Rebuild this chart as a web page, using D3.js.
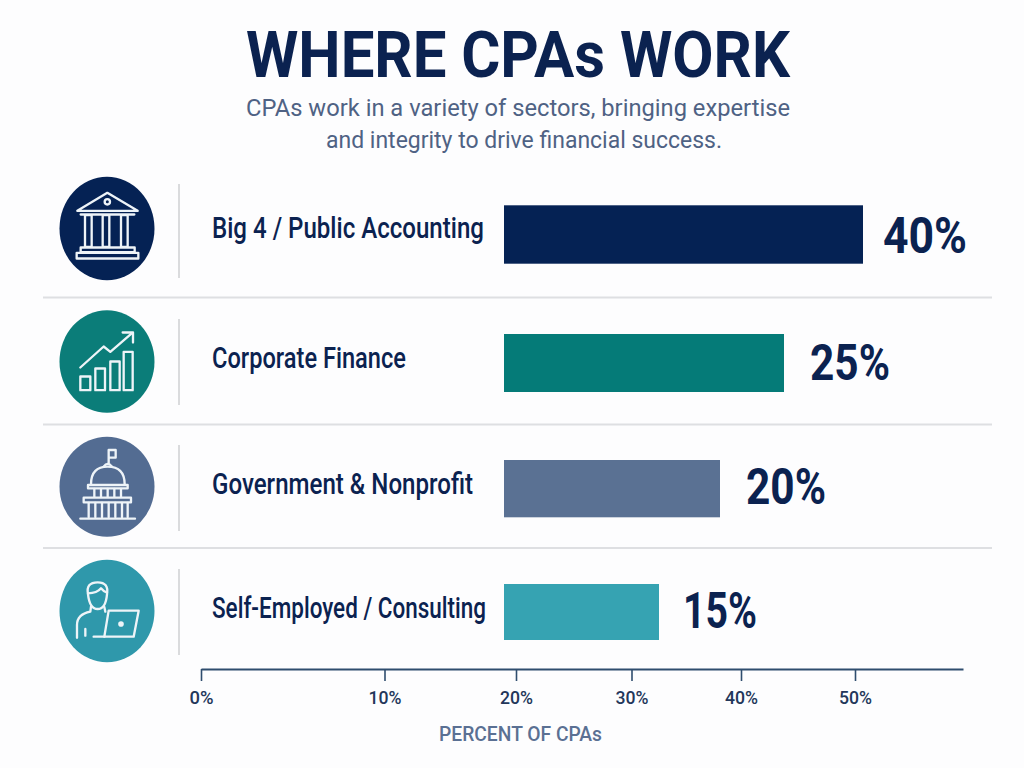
<!DOCTYPE html>
<html>
<head>
<meta charset="utf-8">
<script src="https://cdn.jsdelivr.net/npm/d3@7/dist/d3.min.js"></script>
<style>
  html, body { margin: 0; padding: 0; background: #fdfdfe; }
  svg { display: block; }
  text { font-family: Roboto, sans-serif; }
</style>
</head>
<body>
<script>
// Chart content
const categories = ["Big 4 / Public Accounting", "Corporate Finance", "Government & Nonprofit", "Self-Employed / Consulting"];
const shares = [40, 25, 20, 15];
const colors = ["#052254", "#057b78", "#5a7193", "#36a3b2"];
const iconColors = ["#052254", "#0b7d79", "#536c92", "#2f98ab"];
const axisTicks = [0, 10, 20, 30, 40, 50];
const titleText = "WHERE CPAs WORK";
const subtitleLines = ["CPAs work in a variety of sectors, bringing expertise", "and integrity to drive financial success."];
const axisTitle = "PERCENT OF CPAs";

// Row geometry
const barTop = d3.scaleOrdinal(categories, [205.3, 334, 460, 584]);
const barBottom = d3.scaleOrdinal(categories, [263.7, 392, 517.3, 640]);
const iconY = d3.scaleOrdinal(categories, [228.5, 361.5, 486.7, 611]);
const iconRy = d3.scaleOrdinal(categories, [51.7, 51.2, 50, 51.2]);
const dividerTop = d3.scaleOrdinal(categories, [184, 319, 445, 569]);
const dividerBottom = d3.scaleOrdinal(categories, [278, 405, 531, 655]);
const labelBase = d3.scaleOrdinal(categories, [238, 368, 494, 618]);
const labelWidth = d3.scaleOrdinal(categories, [272, 194, 261, 274]);
const valueBase = d3.scaleOrdinal(categories, [252.5, 380, 504, 628]);
const valueWidth = d3.scaleOrdinal(categories, [84, 80, 80, 74]);
const separatorYs = [297.5, 424.5, 548];

// The printed bar lengths and the printed axis both follow uneven spacing.
const barX = d3.scaleLinear().domain([0, 15, 20, 25, 40]).range([504, 659, 720, 784, 863]);
const axisX = d3.scaleLinear().domain([0, 10, 20, 30, 40, 50, 60]).range([201, 384.5, 516, 631.5, 741, 855, 963]);

const svg = d3.select("body").append("svg").attr("width", 1024).attr("height", 768);
svg.append("rect").attr("width", 1024).attr("height", 768).attr("fill", "#fdfdfe");

const navy = "#0b2250";

// Heading
svg.append("text").attr("x", 246).attr("y", 77).text(titleText)
  .attr("font-size", 64).attr("font-weight", 700).attr("fill", navy)
  .attr("textLength", 544).attr("lengthAdjust", "spacingAndGlyphs");
svg.selectAll("text.sub").data(subtitleLines).join("text").attr("class", "sub")
  .attr("x", (d, i) => [246, 326][i]).attr("y", (d, i) => [116, 148][i]).text(d => d)
  .attr("font-size", 24).attr("font-weight", 400).attr("fill", "#4f6284")
  .attr("textLength", (d, i) => [544, 396][i]).attr("lengthAdjust", "spacingAndGlyphs");

// Horizontal rules between rows
svg.selectAll("line.sep").data(separatorYs).join("line").attr("class", "sep")
  .attr("x1", 43).attr("x2", 992).attr("y1", d => d).attr("y2", d => d)
  .attr("stroke", "#dedfe2").attr("stroke-width", 2);

const rows = svg.selectAll("g.row").data(d3.zip(categories, shares, colors, iconColors)).join("g").attr("class", "row");

rows.append("ellipse").attr("cx", 107).attr("cy", d => iconY(d[0])).attr("rx", 47.5).attr("ry", d => iconRy(d[0])).attr("fill", d => d[3]);

rows.append("line").attr("x1", 179).attr("x2", 179)
  .attr("y1", d => dividerTop(d[0])).attr("y2", d => dividerBottom(d[0]))
  .attr("stroke", "#d6d7da").attr("stroke-width", 1.8);

rows.append("text").attr("x", 212).attr("y", d => labelBase(d[0])).text(d => d[0])
  .attr("font-size", 30).attr("font-weight", 500).attr("fill", navy)
  .attr("textLength", d => labelWidth(d[0])).attr("lengthAdjust", "spacingAndGlyphs");

rows.append("rect").attr("x", barX(0)).attr("y", d => barTop(d[0]))
  .attr("width", d => barX(d[1]) - barX(0)).attr("height", d => barBottom(d[0]) - barTop(d[0]))
  .attr("fill", d => d[2]);

rows.append("text").attr("x", d => barX(d[1]) + (d[1] === 40 ? 20 : d[1] === 15 ? 24 : 26)).attr("y", d => valueBase(d[0]))
  .text(d => d[1] + "%")
  .attr("font-size", 50).attr("font-weight", 700).attr("fill", navy)
  .attr("textLength", d => valueWidth(d[0])).attr("lengthAdjust", "spacingAndGlyphs");

// Line icons, sketched on a 3x grid around each circle's centre
const iconGroup = (i, ox, oy) => svg.append("g")
  .attr("transform", `translate(107,${iconY(categories[i])}) scale(${1 / 3}) translate(${-ox},${-oy})`)
  .attr("fill", "none").attr("stroke", "#eef4f8").attr("stroke-width", 7)
  .attr("stroke-linejoin", "round").attr("stroke-linecap", "round");

// Bank building
const bank = iconGroup(0, 201, 175);
bank.append("path").attr("d", "M112 122 L202 68 L293 122 Z");
bank.append("circle").attr("cx", 202).attr("cy", 95).attr("r", 8);
bank.append("path").attr("d", "M122 133 H283");
[135, 188, 243].forEach(x => bank.append("rect").attr("x", x).attr("y", 135).attr("width", 20).attr("height", 95));
bank.append("rect").attr("x", 122).attr("y", 232).attr("width", 162).attr("height", 14);
bank.append("rect").attr("x", 110).attr("y", 248).attr("width", 185).attr("height", 17);

// Rising bars and arrow
const growth = iconGroup(1, 200, 572);
[[120, 617, 30, 41], [165, 593, 29, 65], [210, 572, 28, 86], [250, 543, 27, 115]].forEach(b =>
  growth.append("rect").attr("x", b[0]).attr("y", b[1]).attr("width", b[2]).attr("height", b[3]));
growth.append("path").attr("d", "M120 590 L190 527 L210 543 L275 487");
growth.append("path").attr("d", "M247 485 H278 V515");

// Capitol dome
const capitol = iconGroup(2, 200, 185);
capitol.append("path").attr("d", "M205 115 V75 H226 V98 H205");
capitol.append("path").attr("d", "M190 125 Q202 108 215 125");
capitol.append("path").attr("d", "M152 178 Q152 125 202 125 Q253 125 253 178");
capitol.append("path").attr("d", "M143 180 H262 V190 H143 Z");
[162, 182, 202, 222, 242].forEach(x => capitol.append("path").attr("d", `M${x} 192 V214`));
capitol.append("path").attr("d", "M130 218 H272 V232 H130 Z");
[145, 165, 185, 205, 225, 245, 262].forEach(x => capitol.append("path").attr("d", `M${x} 234 V276`));
capitol.append("path").attr("d", "M120 281 H284");

// Person at a laptop
const person = iconGroup(3, 200, 558);
person.append("path").attr("d", "M143 508 Q136 472 172 472 Q206 472 200 508 Q196 552 172 552 Q148 552 143 508 Z");
person.append("path").attr("d", "M143 505 Q170 505 182 490 Q190 500 200 503");
person.append("path").attr("d", "M110 638 V600 Q110 568 150 560 L152 545 M192 546 L195 560");
person.append("path").attr("d", "M135 612 V632");
person.append("path").attr("d", "M192 635 L205 557 H295 L280 635 Z");
person.append("path").attr("d", "M160 635 H192");
person.append("circle").attr("cx", 242).attr("cy", 597).attr("r", 5).attr("fill", "#eef4f8");

// Percent axis
const axis = svg.append("g").attr("transform", "translate(0,669)")
  .call(d3.axisBottom(axisX).tickValues(axisTicks).tickFormat(d => d + "%").tickSize(12).tickSizeOuter(0).tickPadding(10));
axis.select(".domain").attr("stroke", "#2f4d6e").attr("stroke-width", 2.2);
axis.selectAll(".tick line").attr("stroke", "#2f4d6e").attr("stroke-width", 1.6);
axis.selectAll(".tick text").attr("font-family", "Roboto, sans-serif").attr("font-size", 18).attr("font-weight", 500).attr("fill", "#23375a")
  .attr("textLength", d => d === 0 ? 24 : 33).attr("lengthAdjust", "spacingAndGlyphs");

svg.append("text").attr("x", 439).attr("y", 741).text(axisTitle)
  .attr("font-size", 20).attr("font-weight", 500).attr("fill", "#5a7093")
  .attr("textLength", 163).attr("lengthAdjust", "spacingAndGlyphs");
</script>
</body>
</html>
